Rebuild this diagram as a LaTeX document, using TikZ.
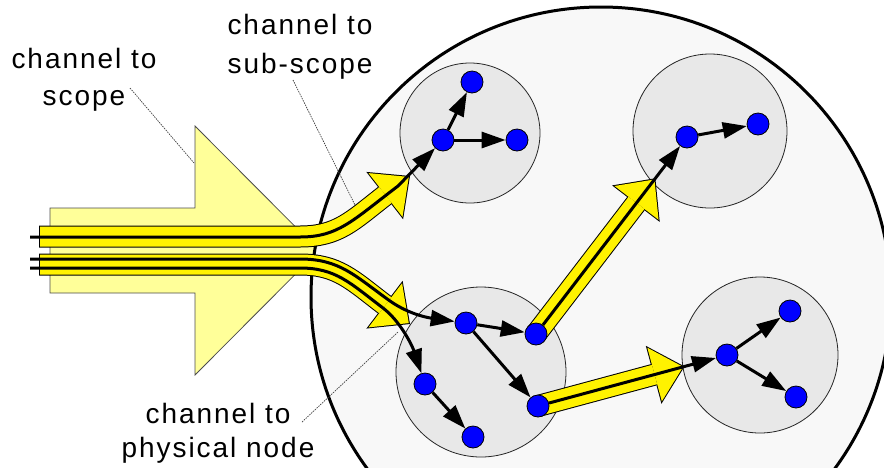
\documentclass[tikz,border=0pt]{standalone}
\usepackage{fontspec}
\setmainfont{Liberation Sans}
\usetikzlibrary{arrows.meta,calc}

\pgfdeclarelayer{background}
\pgfsetlayers{background,main}

\definecolor{scopefill}{HTML}{F8F8F8}
\definecolor{subfill}{HTML}{E8E8E8}
\definecolor{bigfill}{HTML}{FFFF99}

\begin{document}
\begin{tikzpicture}[x=1pt, y=-1pt,
    pnode/.style={circle, draw, fill=blue, minimum size=22pt, inner sep=0pt, line width=0.8pt},
    subscope/.style={circle, draw=black!85, fill=subfill, inner sep=0pt, line width=0.8pt},
    link/.style={line width=3pt, -{Triangle[length=24pt,width=16pt]}},
    bandout/.style={line width=22pt, black, -{Triangle[length=32pt,width=60pt,line width=0pt]}},
    bandin/.style={line width=20pt, yellow, shorten <=1pt, shorten >=1.5pt, -{Triangle[length=29.5pt,width=55.5pt,line width=0pt]}},
    note/.style={align=center, inner sep=0pt, font=\fontsize{28}{37}\selectfont\addfontfeatures{LetterSpace=7}},
    leader/.style={line width=0.7pt, black!75, dash pattern=on 1.5pt off 1pt}]
  \useasboundingbox (0,0) rectangle (884,467);

  % physical nodes
  \node[pnode] (A1) at (443,140) {};
  \node[pnode] (A2) at (472,82) {};
  \node[pnode] (A3) at (517,140) {};
  \node[pnode] (D1) at (687,137) {};
  \node[pnode] (D2) at (758,124) {};
  \node[pnode] (B1) at (466,323) {};
  \node[pnode] (B2) at (536,334) {};
  \node[pnode] (B3) at (425,384) {};
  \node[pnode] (B4) at (538,406) {};
  \node[pnode] (B5) at (473,437) {};
  \node[pnode] (E1) at (727,355) {};
  \node[pnode] (E2) at (790,311) {};
  \node[pnode] (E3) at (796,397) {};

  % channel ends
  \coordinate (c1) at (39,236.5);
  \coordinate (c2) at (39,264.5);
  \coordinate (tip1) at (410,176);
  \coordinate (tip2) at (410,324);
  \coordinate (in1) at (30,237);
  \coordinate (in2) at (30,259);
  \coordinate (in3) at (30,268);

  \begin{pgfonlayer}{background}
    % scope arrow and scope
    \draw[fill=bigfill, draw=black!70, line width=0.8pt]
      (50,208) -- (195,208) -- (195,126) -- (319,250.5) -- (195,375) -- (195,293) -- (50,293) -- cycle;
    \draw[fill=scopefill, line width=3pt] (601,297) circle (290);

    % sub-scopes
    \node[subscope, minimum size=140pt] (sA) at (470,133) {};
    \node[subscope, minimum size=154pt] (sD) at (710,131) {};
    \node[subscope, minimum size=170pt] (sB) at (481,372) {};
    \node[subscope, minimum size=156pt] (sE) at (760,355) {};

    % channels
    \draw[bandout] (c1) -- (300,236.5) .. controls (338,236.5) and (352,221) .. (tip1);
    \draw[bandin]  (c1) -- (300,236.5) .. controls (338,236.5) and (352,221) .. (tip1);
    \draw[bandout] (c2) -- (300,264.5) .. controls (338,264.5) and (352,280) .. (tip2);
    \draw[bandin]  (c2) -- (300,264.5) .. controls (338,264.5) and (352,280) .. (tip2);
    \draw[bandout, shorten >=52pt] (B2.center) -- (D1.center);
    \draw[bandin, shorten <=0pt, shorten >=53.5pt] (B2.center) -- (D1.center);
    \draw[bandout, shorten >=44pt] (B4.center) -- (E1.center);
    \draw[bandin, shorten <=0pt, shorten >=45.5pt] (B4.center) -- (E1.center);
  \end{pgfonlayer}

  % routes
  \draw[link] (in1) -- (300,237) .. controls (338,237) and (352,221) .. (398,186) -- (A1);
  \draw[link] (in2) -- (300,259) .. controls (340,259) and (355,276) .. (390,301)
    .. controls (410,315) and (430,318) .. (B1);
  \draw[link] (in3) -- (300,268) .. controls (336,268) and (350,283) .. (383,308)
    .. controls (400,321) and (412,345) .. (B3);
  \draw[link] (A1) -- (A2);
  \draw[link] (A1) -- (A3);
  \draw[link] (D1) -- (D2);
  \draw[link] (B1) -- (B2);
  \draw[link] (B1) -- (B4);
  \draw[link] (B3) -- (B5);
  \draw[link] (E1) -- (E2);
  \draw[link] (E1) -- (E3);
  \draw[link] (B2) -- (D1);
  \draw[link] (B4) -- (E1);

  % labels
  \node[note, anchor=north] (Lscope) at (84,48) {channel to\\scope};
  \node[note, anchor=north] (Lsub) at (300,14) {channel to\\[2pt]sub-scope};
  \node[note, anchor=north] (Lphys) at (218,403) {channel to\\[-3pt]physical node};

  \coordinate (l1a) at (130,88);
  \coordinate (l1b) at (194,163);
  \coordinate (l2a) at (293,80);
  \coordinate (l2b) at (355,205);
  \coordinate (l3a) at (302,422);
  \coordinate (l3b) at (398,332);
  \draw[leader] (l1a) -- (l1b);
  \draw[leader] (l2a) -- (l2b);
  \draw[leader] (l3a) -- (l3b);
\end{tikzpicture}
\end{document}
